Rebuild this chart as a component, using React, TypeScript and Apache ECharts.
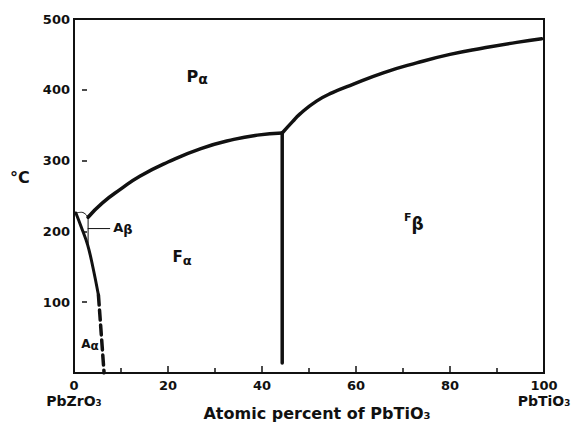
import React, { useEffect, useRef } from 'react';
import * as echarts from 'echarts';

// Upper boundary Fα / Pα (mol % PbTiO3, °C)
const upperX = [3.0, 6.0, 10, 14, 20, 27, 34, 39, 44.3];
const upperT = [220, 240, 260, 278, 298, 317, 330, 336, 339];
// Upper boundary Fβ / Pα
const rightX = [44.3, 46.5, 48.1, 51.6, 55, 58.7, 65.8, 72.9, 80, 87.1, 94.2, 99.5];
const rightT = [339, 355, 366, 384, 396, 406, 424, 438, 450, 459, 467, 472];
// Morphotropic boundary Fα / Fβ
const mpbX = [44.3, 44.3];
const mpbT = [339, 14];
// Aα / Fα boundary (solid, then dashed)
const aSolidX = [0.4, 1.5, 2.9, 4.0, 5.2];
const aSolidT = [226, 207, 181, 150, 110];
const aDashX = [5.2, 5.8, 6.4];
const aDashT = [110, 55, 0];
// Aβ small region thin lines
const abTopX = [0.4, 1.6, 3.0];
const abTopT = [226, 227, 220];
const abSideX = [3.0, 3.0];
const abSideT = [220, 183];
const leaderX = [3.0, 7.6];
const leaderT = [204, 204];

// Region labels
const regionMain = ['P', 'F', 'F', 'A', 'A'];
const regionSub = ['α', 'α', 'β', 'α', 'β'];
const regionX = [26.2, 23, 72.3, 3.4, 10.4];
const regionT = [418, 162, 213, 40, 204];

const xTickLabels = ['0', '20', '40', '60', '80', '100'];
const yTickLabels = ['', '100', '200', '300', '400', '500'];

const pairs = (xs: number[], ts: number[]) => xs.map((x, i) => [x, ts[i]]);

const FONT = 'DejaVu Sans';
const INK = '#111';

export default function App() {
  const ref = useRef<HTMLDivElement>(null);
  useEffect(() => {
    document.body.style.margin = '0';
    const chart = echarts.init(ref.current!, null, { renderer: 'svg' });
    const lineStyle = (w: number, type: any = 'solid') => ({ color: INK, width: w, type, cap: 'round' as const });
    const lineSeries = (name: string, data: number[][], w: number, smooth: boolean | number, type: any = 'solid') => ({
      type: 'line',
      name,
      data,
      smooth,
      showSymbol: false,
      symbol: 'none',
      lineStyle: lineStyle(w, type),
      emphasis: { disabled: true },
      z: 5,
    });
    const txt = (size: number, va: string, lh: number) => ({
      fontFamily: FONT,
      fontWeight: 'bold',
      fontSize: size,
      color: INK,
      verticalAlign: va,
      lineHeight: lh,
      textBorderWidth: 0,
    });
    chart.setOption({
      animation: false,
      backgroundColor: '#fff',
      grid: {
        left: 74,
        right: 36,
        top: 19,
        bottom: 50,
        show: true,
        borderColor: INK,
        borderWidth: 2,
        backgroundColor: 'transparent',
      },
      xAxis: {
        type: 'value',
        min: 0,
        max: 100,
        interval: 20,
        axisLine: { lineStyle: { color: INK, width: 2 } },
        axisTick: { show: true, inside: true, length: 7, lineStyle: { color: INK, width: 1.5 } },
        minorTick: { show: true, splitNumber: 2, length: 5, lineStyle: { color: INK, width: 1.5 } },
        splitLine: { show: false },
        minorSplitLine: { show: false },
        axisLabel: {
          margin: 5,
          color: INK,
          fontFamily: FONT,
          fontWeight: 'bold',
          fontSize: 13,
          formatter: (v: number) => {
            const idx = xTickLabels.indexOf(String(v));
            const t = idx >= 0 ? xTickLabels[idx] : '';
            if (v === 0) return `{n|${t}}\n{e|PbZrO₃}`;
            if (v === 100) return `{n|${t}}\n{e|PbTiO₃}`;
            return `{n|${t}}`;
          },
          rich: {
            n: { fontFamily: FONT, fontWeight: 'bold', fontSize: 13, color: INK, lineHeight: 15 },
            e: { fontFamily: FONT, fontWeight: 'bold', fontSize: 14, color: INK, lineHeight: 16 },
          },
        },
      },
      yAxis: [
        {
          type: 'value',
          position: 'left',
          min: 0,
          max: 500,
          interval: 100,
          axisLine: { show: true, onZero: false, lineStyle: { color: INK, width: 2 } },
          axisTick: { show: false },
          splitLine: { show: false },
          axisLabel: {
            margin: 4,
            color: INK,
            fontFamily: FONT,
            fontWeight: 'bold',
            fontSize: 13,
            formatter: (v: number) => yTickLabels[Math.round(v / 100)] ?? '',
          },
        },
        {
          type: 'value',
          position: 'left',
          offset: -8,
          min: 0,
          max: 500,
          interval: 100,
          axisLine: { show: false, onZero: false },
          axisTick: { show: true, inside: true, length: 5, lineStyle: { color: INK, width: 1.5 } },
          axisLabel: { show: false },
          splitLine: { show: false },
        },
      ],
      graphic: [
        {
          type: 'text',
          left: 10,
          top: 169,
          style: { text: '°C', fontFamily: FONT, fontWeight: 'bold', fontSize: 16, fill: INK },
        },
        {
          type: 'text',
          x: 317,
          y: 413,
          style: {
            text: 'Atomic percent of PbTiO₃',
            fontFamily: FONT,
            fontWeight: 'bold',
            fontSize: 16,
            fill: INK,
            align: 'center',
            verticalAlign: 'middle',
          },
        },
      ],
      series: [
        lineSeries('upper', pairs(upperX, upperT), 3.5, 0.5),
        lineSeries('right', pairs(rightX, rightT), 3.5, 0.5),
        lineSeries('mpb', pairs(mpbX, mpbT), 3.5, false),
        lineSeries('aSolid', pairs(aSolidX, aSolidT), 3, 0.4),
        lineSeries('aDash', pairs(aDashX, aDashT), 3.5, 0.3, [10, 5]),
        lineSeries('abTop', pairs(abTopX, abTopT), 1, 0.5),
        lineSeries('abSide', pairs(abSideX, abSideT), 1, false),
        lineSeries('leader', pairs(leaderX, leaderT), 1, false),
        {
          type: 'scatter',
          name: 'regions',
          symbolSize: 0,
          itemStyle: { color: INK, opacity: 1 },
          emphasis: { disabled: true },
          data: regionX.map((x, i) => [x, regionT[i]]),
          label: {
            show: true,
            position: 'inside',
            color: INK,
            textBorderWidth: 0,
            formatter: (p: any) => {
              const i = p.dataIndex;
              if (i === 0) return `{bm|${regionMain[i]}}{bs|${regionSub[i]}}`;
              if (i === 1) return `{fm|${regionMain[i]}}{fs|${regionSub[i]}}`;
              if (i === 2) return `{tm|${regionMain[i]}}{ts|${regionSub[i]}}`;
              if (i === 3) return `{am|${regionMain[i]}}{as|${regionSub[i]}}`;
              return `{cm|${regionMain[i]}}{cs|${regionSub[i]}}`;
            },
            rich: {
              bm: txt(16, 'top', 18),
              bs: txt(14, 'bottom', 18),
              fm: txt(15, 'top', 18),
              fs: txt(13, 'bottom', 18),
              tm: txt(11, 'top', 20),
              ts: txt(17, 'bottom', 20),
              am: txt(12, 'top', 14),
              as: txt(12, 'bottom', 14),
              cm: txt(13, 'top', 15),
              cs: txt(13, 'bottom', 15),
            },
          },
          z: 6,
        },
      ],
    });
    return () => chart.dispose();
  }, []);
  return <div ref={ref} style={{ width: 580, height: 423 }} />;
}
